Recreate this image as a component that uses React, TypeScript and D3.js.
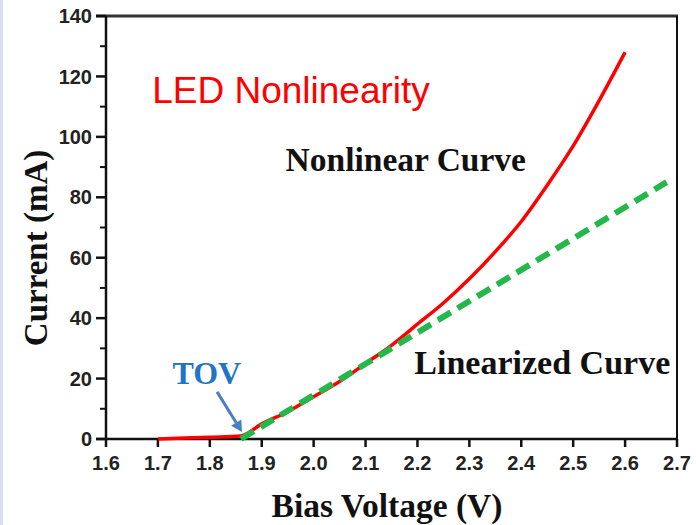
import React from "react";
import * as d3 from "d3";

const voltage = [1.7, 1.75, 1.8, 1.86, 1.9, 1.95, 2.0, 2.05, 2.1, 2.15, 2.2, 2.25, 2.3, 2.35, 2.4, 2.45, 2.5, 2.55, 2.6];
const current = [0, 0.3, 0.6, 1, 5, 9, 14, 19, 25, 31, 38, 45, 53, 62, 72, 84, 97, 112, 128];
const linVoltage = [1.86, 2.68];
const linCurrent = [0, 85];
const xTicks = [1.6, 1.7, 1.8, 1.9, 2.0, 2.1, 2.2, 2.3, 2.4, 2.5, 2.6, 2.7];
const yTicks = [0, 20, 40, 60, 80, 100, 120, 140];
const yMinor = [10, 30, 50, 70, 90, 110, 130];
const title = "LED Nonlinearity";
const xLabel = "Bias Voltage (V)";
const yLabel = "Current (mA)";

const W = 696, H = 525;
const L = 106, R = 677, T = 16, B = 439;

export default function App() {
  const x = d3.scaleLinear().domain([1.6, 2.7]).range([L, R]);
  const y = d3.scaleLinear().domain([0, 140]).range([B, T]);
  const line = d3.line<[number, number]>().x(d => x(d[0])).y(d => y(d[1]));
  const red = voltage.map((v, i) => [v, current[i]] as [number, number]);
  const green = linVoltage.map((v, i) => [v, linCurrent[i]] as [number, number]);
  const redPath = d3.line<[number, number]>().x(d => x(d[0])).y(d => y(d[1])).curve(d3.curveMonotoneX)(red) || "";
  const greenPath = line(green) || "";

  const a0 = [x(1.814), y(15.6)];
  const a1 = [x(1.862), y(2.3)];
  const ang = Math.atan2(a1[1] - a0[1], a1[0] - a0[0]);
  const hl = 11, hw = 6;
  const bx = a1[0] - hl * Math.cos(ang), by = a1[1] - hl * Math.sin(ang);
  const head = `M${a1[0]},${a1[1]} L${bx + hw * Math.sin(ang)},${by - hw * Math.cos(ang)} L${bx - hw * Math.sin(ang)},${by + hw * Math.cos(ang)} Z`;

  const serif = "'Liberation Serif', 'Times New Roman', serif";
  const sans = "'Liberation Sans', Arial, sans-serif";

  return (
    <svg width={W} height={H} style={{ position: "fixed", left: 0, top: 0, background: "#fff" }}>
      <rect x={0} y={0} width={W} height={H} fill="#fff" />
      <rect x={0} y={0} width={3} height={H} fill="#dcdcf6" />
      <line x1={L - 10} x2={R + 1} y1={T} y2={T} stroke="#333" strokeWidth={3} />
      <line x1={R} x2={R} y1={T} y2={B} stroke="#111" strokeWidth={2} />
      <line x1={L} x2={L} y1={T} y2={B + 1} stroke="#111" strokeWidth={2.5} />
      <line x1={L - 10} x2={R + 1} y1={B} y2={B} stroke="#111" strokeWidth={2.5} />
      {yTicks.map(t => (
        <g key={"y" + t}>
          <line x1={L - 10} x2={L} y1={y(t)} y2={y(t)} stroke="#111" strokeWidth={2.5} />
          <text x={L - 14} y={y(t)} dy="0.36em" textAnchor="end" fontFamily={sans} fontWeight="bold" fontSize={20} fill="#222">{t}</text>
        </g>
      ))}
      {yMinor.map(t => (
        <line key={"m" + t} x1={L - 6} x2={L} y1={y(t)} y2={y(t)} stroke="#111" strokeWidth={2} />
      ))}
      {xTicks.map(t => (
        <g key={"x" + t}>
          <line x1={x(t)} x2={x(t)} y1={B} y2={B + 8} stroke="#111" strokeWidth={2.5} />
          <text x={x(t)} y={B + 31} textAnchor="middle" fontFamily={sans} fontWeight="bold" fontSize={20} fill="#222">{t.toFixed(1)}</text>
        </g>
      ))}
      <path d={redPath} fill="none" stroke="#ff0000" strokeWidth={3.5} />
      <path d={greenPath} fill="none" stroke="#22b84a" strokeWidth={6} strokeDasharray="15 8" />
      <line x1={a0[0]} y1={a0[1]} x2={bx} y2={by} stroke="#4a7fc4" strokeWidth={3} />
      <path d={head} fill="#4a7fc4" />
      <text x={x(1.689)} y={y(111.3)} fontFamily={sans} fontSize={37} fill="#ff0000">{title}</text>
      <text x={x(1.946)} y={y(88.7)} fontFamily={serif} fontWeight="bold" fontSize={33.5} fill="#111">Nonlinear Curve</text>
      <text x={x(2.194)} y={y(21.5)} fontFamily={serif} fontWeight="bold" fontSize={34} fill="#111">Linearized Curve</text>
      <text x={x(1.728)} y={y(18.2)} fontFamily={serif} fontWeight="bold" fontSize={32} fill="#1f75c6">TOV</text>
      <text x={387} y={517} textAnchor="middle" fontFamily={serif} fontWeight="bold" fontSize={33.5} fill="#111">{xLabel}</text>
      <text transform={`translate(47,248) rotate(-90)`} textAnchor="middle" fontFamily={serif} fontWeight="bold" fontSize={33} fill="#111">{yLabel}</text>
    </svg>
  );
}
